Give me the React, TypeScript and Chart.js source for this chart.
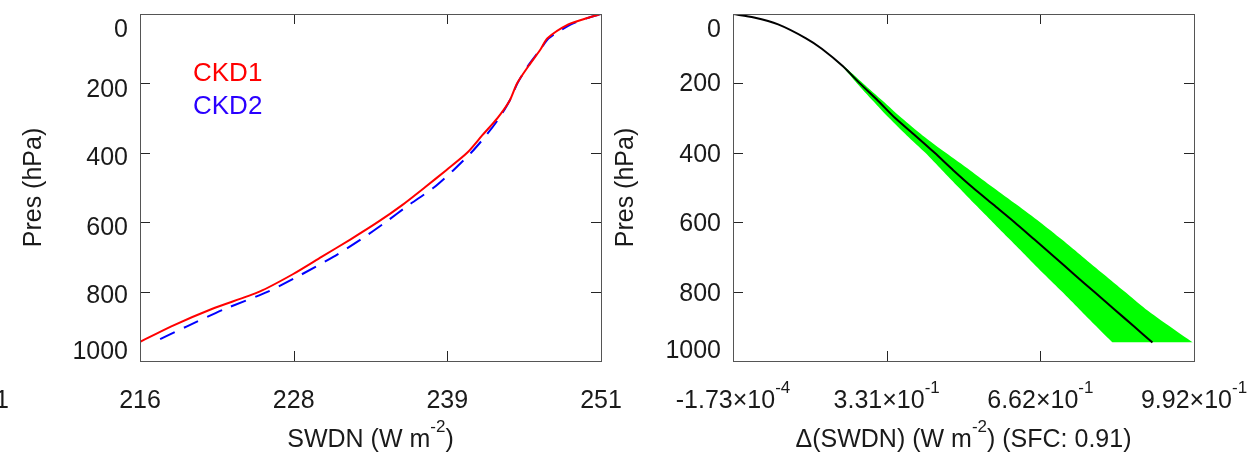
import React, { useEffect, useRef } from 'react';
import { Chart, registerables } from 'chart.js';

Chart.register(...registerables);

const FONT = '"Liberation Sans", Arial, Helvetica, sans-serif';

// ---------- data ----------
const presLevels = [0, 10, 30, 70, 100, 150, 200, 250, 300, 350, 400, 450, 500, 550, 600, 650, 700, 750, 800, 850, 900, 947];
const ckd1Swdn = [251.2, 250.3, 248.7, 247.1, 246.6, 245.65, 244.77, 244.2, 243.27, 242.1, 240.95, 239.35, 237.7, 236.0, 234.1, 232.0, 229.8, 227.6, 225.05, 221.4, 218.3, 215.8];
const ckd2Swdn = [251.2, 250.3, 248.9, 247.2, 246.6, 245.6, 244.8, 244.2, 243.4, 242.4, 241.25, 239.9, 238.4, 236.5, 234.7, 232.8, 230.7, 228.3, 225.7, 222.4, 219.5, 216.9];
const diffMean = [0, 0.045, 0.097, 0.157, 0.191, 0.236, 0.273, 0.312, 0.349, 0.392, 0.434, 0.474, 0.516, 0.561, 0.606, 0.649, 0.692, 0.734, 0.777, 0.82, 0.863, 0.903];
const diffMin = [0, 0.045, 0.097, 0.157, 0.191, 0.234, 0.267, 0.301, 0.336, 0.374, 0.414, 0.45, 0.486, 0.522, 0.559, 0.596, 0.633, 0.67, 0.708, 0.745, 0.782, 0.817];
const diffMax = [0, 0.045, 0.097, 0.157, 0.191, 0.238, 0.28, 0.322, 0.363, 0.408, 0.458, 0.51, 0.56, 0.611, 0.661, 0.708, 0.753, 0.798, 0.843, 0.888, 0.94, 0.99];

const presTicks = [0, 200, 400, 600, 800, 1000];
const presTickLabels = ['0', '200', '400', '600', '800', '1000'];
const swdnRange = [215.9, 251.2];
const swdnTicks = [215.9, 227.67, 239.43, 251.2];
const swdnTickLabels = ['216', '228', '239', '251'];
const diffRange = [-0.000173, 0.9925];
const diffTicks = [-0.000173, 0.3307, 0.6616, 0.9925];
const diffTickLabels = ['-1.73×10^{-4}', '3.31×10^{-1}', '6.62×10^{-1}', '9.92×10^{-1}'];

const seriesNames = ['CKD1', 'CKD2'];
const leftXTitle = 'SWDN (W m^{-2})';
const rightXTitle = 'Δ(SWDN) (W m^{-2}) (SFC: 0.91)';
const yTitle = 'Pres (hPa)';

// ---------- helpers ----------
const SIZE = 25;
const TICK = 10;

function richParts(s: string) {
  const parts: { t: string; sup: boolean }[] = [];
  const re = /\^\{([^}]*)\}/g;
  let last = 0;
  let m: RegExpExecArray | null;
  while ((m = re.exec(s))) {
    if (m.index > last) parts.push({ t: s.slice(last, m.index), sup: false });
    parts.push({ t: m[1], sup: true });
    last = re.lastIndex;
  }
  if (last < s.length) parts.push({ t: s.slice(last), sup: false });
  return parts;
}

function drawRich(ctx: CanvasRenderingContext2D, s: string, x: number, baseline: number, size: number, align: string) {
  const parts = richParts(s);
  const supSize = Math.round(size * 0.66);
  const widths = parts.map((p) => {
    ctx.font = `${p.sup ? supSize : size}px ${FONT}`;
    return ctx.measureText(p.t).width;
  });
  const total = widths.reduce((a, b) => a + b, 0);
  let cx = align === 'center' ? x - total / 2 : align === 'right' ? x - total : x;
  ctx.textAlign = 'left';
  ctx.textBaseline = 'alphabetic';
  parts.forEach((p, i) => {
    ctx.font = `${p.sup ? supSize : size}px ${FONT}`;
    ctx.fillText(p.t, cx, p.sup ? baseline - size * 0.6 : baseline);
    cx += widths[i];
  });
}

type FrameCfg = {
  xTicks: number[];
  xLabels: string[];
  yLabelOffsets: number[];
  xTitle: string;
  yTitleX: number;
  legend?: boolean;
  stray?: boolean;
};

function makeFramePlugin(cfg: FrameCfg) {
  return {
    id: 'frame',
    afterDraw(chart: any) {
      const { ctx, chartArea: a, scales } = chart;
      const xs = scales.x;
      const ys = scales.y;
      ctx.save();
      // inward tick marks
      ctx.strokeStyle = '#262626';
      ctx.lineWidth = 1;
      ctx.beginPath();
      cfg.xTicks.forEach((v) => {
        const px = Math.round(xs.getPixelForValue(v)) + 0.5;
        ctx.moveTo(px, a.bottom);
        ctx.lineTo(px, a.bottom - TICK);
        ctx.moveTo(px, a.top);
        ctx.lineTo(px, a.top + TICK);
      });
      presTicks.forEach((v) => {
        const py = Math.round(ys.getPixelForValue(v)) + 0.5;
        ctx.moveTo(a.left, py);
        ctx.lineTo(a.left + TICK, py);
        ctx.moveTo(a.right, py);
        ctx.lineTo(a.right - TICK, py);
      });
      ctx.stroke();
      // box
      ctx.strokeStyle = '#555555';
      ctx.strokeRect(Math.round(a.left) + 0.5, Math.round(a.top) + 0.5, Math.round(a.right - a.left), Math.round(a.bottom - a.top));

      ctx.fillStyle = '#1a1a1a';
      // y tick labels
      presTicks.forEach((v, i) => {
        const py = ys.getPixelForValue(v) + cfg.yLabelOffsets[i] + SIZE * 0.358;
        drawRich(ctx, presTickLabels[i], a.left - 12, py, SIZE, 'right');
      });
      // x tick labels
      cfg.xTicks.forEach((v, i) => {
        drawRich(ctx, cfg.xLabels[i], xs.getPixelForValue(v), a.bottom + 47, SIZE, 'center');
      });
      // x title
      drawRich(ctx, cfg.xTitle, (a.left + a.right) / 2, a.bottom + 86, SIZE, 'center');
      // y title
      ctx.save();
      ctx.translate(cfg.yTitleX, (a.top + a.bottom) / 2);
      ctx.rotate(-Math.PI / 2);
      drawRich(ctx, yTitle, 0, 0, SIZE, 'center');
      ctx.restore();
      // stray clipped label from the neighbouring panel
      if (cfg.stray) {
        drawRich(ctx, swdnTickLabels[3], 9, a.bottom + 47, SIZE, 'right');
      }
      // legend text
      if (cfg.legend) {
        chart.data.datasets.forEach((ds: any, i: number) => {
          ctx.fillStyle = ds.legendColor || ds.borderColor;
          ctx.font = `26px ${FONT}`;
          ctx.textAlign = 'left';
          ctx.textBaseline = 'alphabetic';
          ctx.fillText(ds.label, 193, 81 + i * 33);
        });
      }
      ctx.restore();
    },
  };
}

function toPoints(xs: number[]) {
  return xs.map((x, i) => ({ x, y: presLevels[i] }));
}

function baseOptions(xRange: number[], padding: any) {
  return {
    animation: false as const,
    responsive: false,
    indexAxis: 'y' as const,
    layout: { padding },
    scales: {
      x: { type: 'linear' as const, display: false, min: xRange[0], max: xRange[1] },
      y: { type: 'linear' as const, display: false, min: 0, max: 1000, reverse: true },
    },
    plugins: { legend: { display: false }, tooltip: { enabled: false } },
    elements: { point: { radius: 0 }, line: { tension: 0.25 } },
  };
}

export default function App() {
  const leftRef = useRef<HTMLCanvasElement>(null);
  const rightRef = useRef<HTMLCanvasElement>(null);

  useEffect(() => {
    const left = new Chart(leftRef.current!, {
      type: 'line',
      data: {
        datasets: [
          {
            label: seriesNames[0],
            data: toPoints(ckd1Swdn),
            borderColor: '#ff0000',
            borderWidth: 2,
            fill: false,
          } as any,
          {
            label: seriesNames[1],
            data: toPoints(ckd2Swdn),
            borderColor: '#0000ff',
            legendColor: '#2a00ff',
            borderWidth: 2,
            borderDash: [16, 10],
            fill: false,
          } as any,
        ],
      },
      options: baseOptions(swdnRange, { left: 140, right: 29, top: 14, bottom: 96 }) as any,
      plugins: [
        makeFramePlugin({
          xTicks: swdnTicks,
          xLabels: swdnTickLabels,
          yLabelOffsets: [14.5, 4.6, 3.2, 3.8, 2.9, -10.5],
          xTitle: leftXTitle,
          yTitleX: 41,
          legend: true,
          stray: true,
        }),
      ],
    });

    const right = new Chart(rightRef.current!, {
      type: 'line',
      data: {
        datasets: [
          {
            label: 'mean',
            data: toPoints(diffMean),
            borderColor: '#000000',
            borderWidth: 2,
            fill: false,
          },
          {
            label: 'max',
            data: toPoints(diffMax),
            borderColor: '#00ff00',
            backgroundColor: '#00ff00',
            borderWidth: 0,
            fill: '+1',
          },
          {
            label: 'min',
            data: toPoints(diffMin),
            borderColor: '#00ff00',
            backgroundColor: '#00ff00',
            borderWidth: 0,
            fill: false,
          },
        ],
      },
      options: baseOptions(diffRange, { left: 133, right: 66, top: 14, bottom: 96 }) as any,
      plugins: [
        makeFramePlugin({
          xTicks: diffTicks,
          xLabels: diffTickLabels,
          yLabelOffsets: [14.3, -1.7, 0.2, 0.3, 0.9, -12],
          xTitle: rightXTitle,
          yTitleX: 33,
        }),
      ],
    });

    return () => {
      left.destroy();
      right.destroy();
    };
  }, []);

  return (
    <div style={{ position: 'fixed', left: 0, top: 0, width: 1260, height: 457, background: '#ffffff', overflow: 'hidden' }}>
      <canvas ref={leftRef} width={630} height={457} style={{ position: 'absolute', left: 0, top: 0 }} />
      <canvas ref={rightRef} width={660} height={457} style={{ position: 'absolute', left: 600, top: 0 }} />
    </div>
  );
}
